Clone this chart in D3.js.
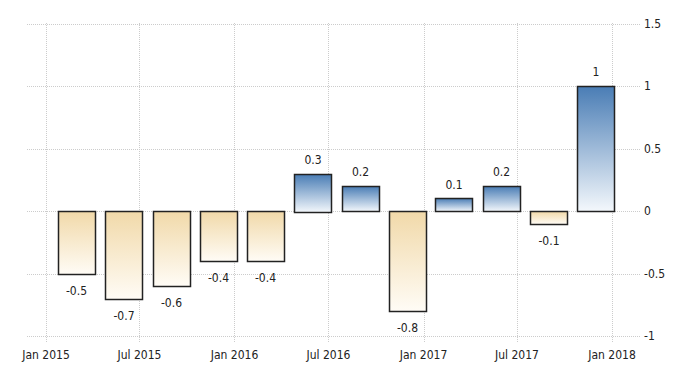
<!DOCTYPE html>
<html>
<head>
<meta charset="utf-8">
<script src="https://cdn.jsdelivr.net/npm/d3@7"></script>
<style>
  body { margin: 0; background: #fff; }
  text { font-family: "DejaVu Sans Condensed", "Liberation Sans Narrow", sans-serif; fill: #222; }
</style>
</head>
<body>
<svg id="chart" width="700" height="375"></svg>
<script>
// quarterly values, plotted at the first day of each quarter's last month
var dates = ["2015-03-01", "2015-06-01", "2015-09-01", "2015-12-01",
  "2016-03-01", "2016-06-01", "2016-09-01", "2016-12-01",
  "2017-03-01", "2017-06-01", "2017-09-01", "2017-12-01"];
var values = [-0.5, -0.7, -0.6, -0.4, -0.4, 0.3, 0.2, -0.8, 0.1, 0.2, -0.1, 1];
var xTicks = ["2015-01-01", "2015-07-01", "2016-01-01", "2016-07-01",
  "2017-01-01", "2017-07-01", "2018-01-01"];
var yTicks = [-1, -0.5, 0, 0.5, 1, 1.5];

var parse = d3.timeParse("%Y-%m-%d");
var data = dates.map((d, i) => ({ date: parse(d), value: values[i] }));

var svg = d3.select("#chart");

var x = d3.scaleTime()
  .domain([parse("2015-01-01"), parse("2018-01-01")])
  .range([46, 612]);

var y = d3.scaleLinear()
  .domain([-1, 1.5])
  .range([336, 23.5]);

var barWidth = 37;

// gradients
var defs = svg.append("defs");
var pos = defs.append("linearGradient").attr("id", "gPos")
  .attr("x1", 0).attr("y1", 0).attr("x2", 0).attr("y2", 1);
pos.append("stop").attr("offset", "0%").attr("stop-color", "#4a7db5");
pos.append("stop").attr("offset", "100%").attr("stop-color", "#f4f8fc");
var neg = defs.append("linearGradient").attr("id", "gNeg")
  .attr("x1", 0).attr("y1", 0).attr("x2", 0).attr("y2", 1);
neg.append("stop").attr("offset", "0%").attr("stop-color", "#f1d9a9");
neg.append("stop").attr("offset", "100%").attr("stop-color", "#fffcf6");

// horizontal grid
svg.append("g").selectAll("line")
  .data(yTicks)
  .join("line")
  .attr("x1", 27).attr("x2", 640)
  .attr("y1", d => Math.round(y(d)) + 0.5)
  .attr("y2", d => Math.round(y(d)) + 0.5)
  .attr("stroke", "#ccc")
  .attr("stroke-dasharray", "1,1");

// vertical grid
svg.append("g").selectAll("line")
  .data(xTicks.map(parse))
  .join("line")
  .attr("x1", d => Math.round(x(d)) + 0.5)
  .attr("x2", d => Math.round(x(d)) + 0.5)
  .attr("y1", 23).attr("y2", 342)
  .attr("stroke", "#ccc")
  .attr("stroke-dasharray", "1,1");

// y labels
svg.append("g").selectAll("text")
  .data(yTicks)
  .join("text")
  .attr("x", 644)
  .attr("y", d => y(d) + 4)
  .style("font-size", "12px")
  .text(d => d);

// x labels
var fmt = d3.timeFormat("%b %Y");
svg.append("g").selectAll("text")
  .data(xTicks.map(parse))
  .join("text")
  .attr("x", d => x(d))
  .attr("y", 359)
  .attr("text-anchor", "middle")
  .style("font-size", "12px")
  .text(d => fmt(d));

// bars
svg.append("g").selectAll("rect")
  .data(data)
  .join("rect")
  .attr("x", d => Math.round(x(d.date) - barWidth / 2) + 0.5)
  .attr("y", d => Math.round(y(Math.max(0, d.value))) + 0.5)
  .attr("width", barWidth)
  .attr("height", d => Math.round(Math.abs(y(d.value) - y(0))))
  .attr("fill", d => d.value >= 0 ? "url(#gPos)" : "url(#gNeg)")
  .attr("stroke", "#222")
  .attr("stroke-width", 1.5);

// value labels
svg.append("g").selectAll("text")
  .data(data)
  .join("text")
  .attr("x", d => x(d.date))
  .attr("y", d => d.value >= 0 ? y(d.value) - 10 : y(d.value) + 21)
  .attr("text-anchor", "middle")
  .style("font-size", "12px")
  .text(d => d.value);
</script>
</body>
</html>
